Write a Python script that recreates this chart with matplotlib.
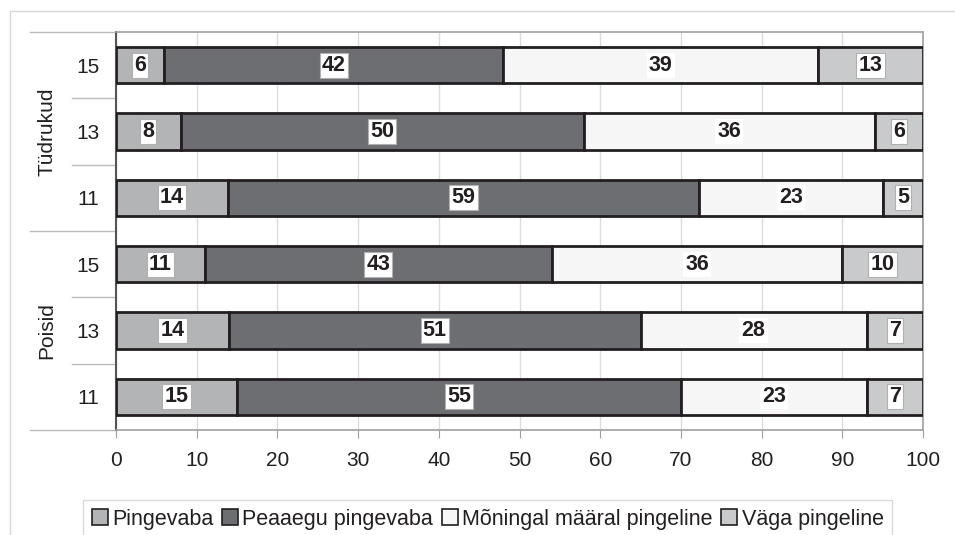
"""
Stress level by gender and age: 100% stacked horizontal bars.
"""

import matplotlib

matplotlib.use("Agg")

import matplotlib.pyplot as plt
import matplotlib.transforms as mtransforms
from matplotlib.patches import Patch, Rectangle
import numpy as np

plt.rcParams["font.family"] = ["Liberation Sans", "DejaVu Sans"]

GROUPS = ["Tüdrukud", "Poisid"]
AGES = ["15", "13", "11"]
SERIES = ["Pingevaba", "Peaaegu pingevaba", "Mõningal määral pingeline", "Väga pingeline"]

# rows top to bottom: Tüdrukud 15, 13, 11, Poisid 15, 13, 11
pingevaba = [6, 8, 14, 11, 14, 15]
peaaegu = [42, 50, 59, 43, 51, 55]
moningal = [39, 36, 23, 36, 28, 23]
vaga = [13, 6, 5, 10, 7, 7]

COLORS = ["#b3b4b6", "#6d6e71", "#f6f6f6", "#c9cacc"]
EDGE = "#231f20"

W, H = 955, 535


def main() -> None:
    fig = plt.figure(figsize=(W / 100, H / 100), dpi=100)
    fig.patch.set_facecolor("white")

    # outer chart frame (cut off at right and bottom)
    fig.patches.append(
        Rectangle((10 / W, -0.1), 1.2, 1 - 11 / H + 0.1, transform=fig.transFigure,
                  fill=False, edgecolor="#d6d6d6", linewidth=1.0)
    )

    ax = fig.add_axes([116 / W, 1 - 430 / H, (923 - 116) / W, (430 - 32) / H])

    data = np.array([pingevaba, peaaegu, moningal, vaga], dtype=float)
    shares = data / data.sum(axis=0) * 100
    n_rows = data.shape[1]
    y = np.arange(n_rows)

    left = np.zeros(n_rows)
    for idx, (name, color) in enumerate(zip(SERIES, COLORS)):
        ax.barh(y, shares[idx], left=left, height=0.55, color=color,
                edgecolor=EDGE, linewidth=2.0, zorder=3)
        for row in range(n_rows):
            box_edge = "none" if idx == 2 else "#b0b0b0"
            ax.text(left[row] + shares[idx, row] / 2, y[row], f"{int(data[idx, row])}",
                    ha="center", va="center", fontsize=15.5, fontweight="bold",
                    color="#231f20", zorder=5,
                    bbox=dict(boxstyle="square,pad=0.1", facecolor="white",
                              edgecolor=box_edge, linewidth=0.8))
        left += shares[idx]

    ax.set_xlim(0, 100)
    ax.set_ylim(n_rows - 0.5, -0.5)
    ax.set_xticks(np.arange(0, 101, 10))
    ax.set_yticks(y)
    ax.set_yticklabels(AGES * len(GROUPS))
    ax.grid(axis="x", color="#dcdcdc", linewidth=1.0, zorder=0)
    ax.tick_params(axis="x", length=6, color="#a0a0a0", labelsize=15,
                   pad=9, labelcolor="#231f20")
    ax.tick_params(axis="y", length=0, labelsize=15, pad=12, labelcolor="#231f20")

    for side in ["top", "right", "bottom"]:
        ax.spines[side].set_color("#a0a0a0")
        ax.spines[side].set_linewidth(1.2)
    ax.spines["left"].set_color("#555555")
    ax.spines["left"].set_linewidth(1.5)

    # multi-level category axis separators
    trans = mtransforms.blended_transform_factory(fig.transFigure, ax.transData)
    for yy in [-0.5, 2.5, 5.5]:
        ax.plot([30 / W, 116 / W], [yy, yy], transform=trans, color="#bcbcbc",
                linewidth=1.0, clip_on=False)
    for yy in [0.5, 1.5, 3.5, 4.5]:
        ax.plot([72 / W, 116 / W], [yy, yy], transform=trans, color="#bcbcbc",
                linewidth=1.0, clip_on=False)

    for g_idx, group in enumerate(GROUPS):
        center = g_idx * len(AGES) + (len(AGES) - 1) / 2
        ax.text(47 / W, center, group, transform=trans, rotation=90,
                ha="center", va="center", fontsize=15, color="#231f20")

    handles = [Patch(facecolor=c, edgecolor=EDGE, linewidth=1.2) for c in COLORS]
    legend = fig.legend(handles, SERIES, loc="upper left",
                        bbox_to_anchor=(83 / W, 1 - 500 / H), ncol=4,
                        fontsize=15.5, frameon=True, fancybox=False,
                        handlelength=0.75, handleheight=0.75, handletextpad=0.2,
                        columnspacing=0.4, borderpad=0.4, borderaxespad=0)
    legend.get_frame().set_edgecolor("#d0d0d0")
    legend.get_frame().set_linewidth(1.0)
    for text in legend.get_texts():
        text.set_color("#231f20")

    fig.savefig("out.png", dpi=100)
    plt.close(fig)


if __name__ == "__main__":
    main()
